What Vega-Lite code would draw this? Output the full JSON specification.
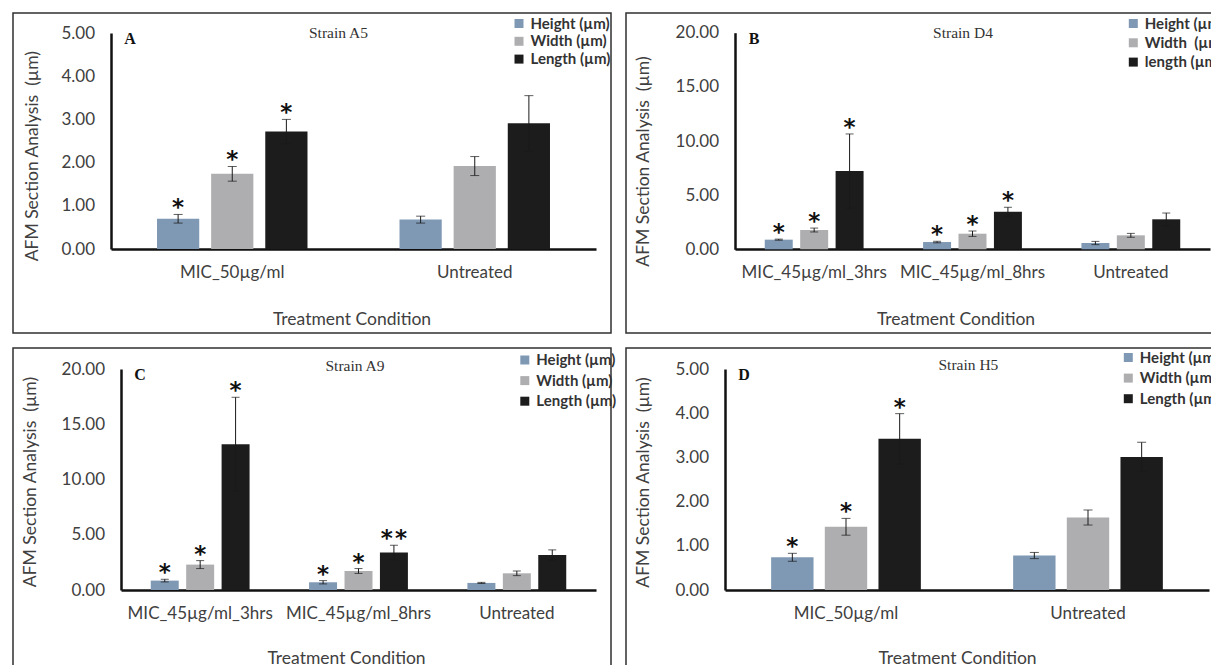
{
  "$schema": "https://vega.github.io/schema/vega-lite/v6.json",
  "padding": {"left": 12, "top": 12, "right": 0, "bottom": 0},
  "autosize": {"type": "pad"},
  "spacing": 13,
  "resolve": {"scale": {"color": "independent", "x": "independent", "y": "independent", "xOffset": "independent"}, "legend": {"color": "independent"}},
  "vconcat": [
    {
      "hconcat": [
        {
          "width": 598, "height": 320,
          "title": {"text": "Strain A5", "dx": 26.5, "dy": 32},
          "data": {"values": [
            {"condition": "MIC_50µg/ml", "measure": "Height (µm)", "value": 0.70, "lo": 0.60, "hi": 0.80, "sig": "*"},
            {"condition": "MIC_50µg/ml", "measure": "Width (µm)", "value": 1.74, "lo": 1.57, "hi": 1.91, "sig": "*"},
            {"condition": "MIC_50µg/ml", "measure": "Length (µm)", "value": 2.72, "lo": 2.44, "hi": 3.00, "sig": "*"},
            {"condition": "Untreated", "measure": "Height (µm)", "value": 0.68, "lo": 0.60, "hi": 0.76, "sig": ""},
            {"condition": "Untreated", "measure": "Width (µm)", "value": 1.92, "lo": 1.70, "hi": 2.14, "sig": ""},
            {"condition": "Untreated", "measure": "Length (µm)", "value": 2.91, "lo": 2.27, "hi": 3.55, "sig": ""}
          ]},
          "encoding": {
            "x": {"field": "condition", "type": "nominal", "sort": null,
              "scale": {"range": [98, 583], "paddingInner": 0, "paddingOuter": 0},
              "axis": {"offset": -84, "title": "Treatment Condition", "titleX": 338.5, "titleY": 70}}
          },
          "layer": [
            {"mark": {"type": "bar"},
             "encoding": {
               "xOffset": {"field": "measure", "type": "nominal", "sort": null, "scale": {"paddingInner": 0.22, "paddingOuter": 0.85}},
               "y": {"field": "value", "type": "quantitative", "scale": {"domain": [0, 5], "range": [236, 20]},
                 "axis": {"values": [0, 1, 2, 3, 4, 5], "format": ".2f", "offset": -98, "title": "AFM Section Analysis \u00a0(µm)", "titleX": -78.6, "titleY": 142.7}},
               "color": {"field": "measure", "type": "nominal", "scale": {"domain": ["Height (µm)", "Width (µm)", "Length (µm)"], "range": ["#7f98b4", "#aeaeb0", "#1c1c1c"]},
                 "legend": {"title": null, "legendX": 498.5, "legendY": 3, "rowPadding": 1.8}}
             }},
            {"mark": {"type": "rule", "color": "#1a1a1a", "strokeWidth": 1},
             "encoding": {
               "xOffset": {"field": "measure", "type": "nominal", "sort": null, "scale": {"paddingInner": 0.22, "paddingOuter": 0.85}},
               "y": {"field": "lo", "type": "quantitative"}, "y2": {"field": "hi"}}},
            {"mark": {"type": "tick", "color": "#1a1a1a", "size": 9, "thickness": 1},
             "encoding": {
               "xOffset": {"field": "measure", "type": "nominal", "sort": null, "scale": {"paddingInner": 0.22, "paddingOuter": 0.85}},
               "y": {"field": "lo", "type": "quantitative"}}},
            {"mark": {"type": "tick", "color": "#1a1a1a", "size": 9, "thickness": 1},
             "encoding": {
               "xOffset": {"field": "measure", "type": "nominal", "sort": null, "scale": {"paddingInner": 0.22, "paddingOuter": 0.85}},
               "y": {"field": "hi", "type": "quantitative"}}},
            {"mark": {"type": "text", "font": "DejaVu Sans", "fontWeight": "bold", "fontSize": 23, "baseline": "alphabetic", "dy": 1, "color": "#111"},
             "encoding": {
               "xOffset": {"field": "measure", "type": "nominal", "sort": null, "scale": {"paddingInner": 0.22, "paddingOuter": 0.85}},
               "y": {"field": "hi", "type": "quantitative"}, "text": {"field": "sig"}}},
            {"data": {"values": [{"panel": "A"}]},
             "mark": {"type": "text", "font": "Liberation Serif", "fontWeight": "bold", "fontSize": 16, "align": "center", "baseline": "middle", "dx": 19, "dy": 6, "color": "#111"},
             "encoding": {"x": {"datum": "MIC_50µg/ml", "bandPosition": 0}, "y": {"datum": 5}, "text": {"field": "panel"}}}
          ]
        },
        {
          "width": 598, "height": 320,
          "title": {"text": "Strain D4", "dx": 38, "dy": 32},
          "data": {"values": [
            {"condition": "MIC_45µg/ml_3hrs", "measure": "Height (µm)", "value": 0.89, "lo": 0.84, "hi": 0.94, "sig": "*"},
            {"condition": "MIC_45µg/ml_3hrs", "measure": "Width \u00a0(µm)", "value": 1.78, "lo": 1.60, "hi": 1.96, "sig": "*"},
            {"condition": "MIC_45µg/ml_3hrs", "measure": "length (µm)", "value": 7.23, "lo": 3.81, "hi": 10.65, "sig": "*"},
            {"condition": "MIC_45µg/ml_8hrs", "measure": "Height (µm)", "value": 0.67, "lo": 0.60, "hi": 0.74, "sig": "*"},
            {"condition": "MIC_45µg/ml_8hrs", "measure": "Width \u00a0(µm)", "value": 1.44, "lo": 1.19, "hi": 1.69, "sig": "*"},
            {"condition": "MIC_45µg/ml_8hrs", "measure": "length (µm)", "value": 3.47, "lo": 3.06, "hi": 3.88, "sig": "*"},
            {"condition": "Untreated", "measure": "Height (µm)", "value": 0.58, "lo": 0.43, "hi": 0.73, "sig": ""},
            {"condition": "Untreated", "measure": "Width \u00a0(µm)", "value": 1.29, "lo": 1.11, "hi": 1.47, "sig": ""},
            {"condition": "Untreated", "measure": "length (µm)", "value": 2.77, "lo": 2.19, "hi": 3.35, "sig": ""}
          ]},
          "encoding": {
            "x": {"field": "condition", "type": "nominal", "sort": null,
              "scale": {"range": [109, 584], "paddingInner": 0, "paddingOuter": 0},
              "axis": {"offset": -84, "title": "Treatment Condition", "titleX": 329.5, "titleY": 70}}
          },
          "layer": [
            {"mark": {"type": "bar"},
             "encoding": {
               "xOffset": {"field": "measure", "type": "nominal", "sort": null, "scale": {"paddingInner": 0.21, "paddingOuter": 0.84}},
               "y": {"field": "value", "type": "quantitative", "scale": {"domain": [0, 20], "range": [236.3, 19.7]},
                 "axis": {"values": [0, 5, 10, 15, 20], "format": ".2f", "offset": -109, "title": "AFM Section Analysis \u00a0(µm)", "titleX": -91.4, "titleY": 148}},
               "color": {"field": "measure", "type": "nominal", "scale": {"domain": ["Height (µm)", "Width \u00a0(µm)", "length (µm)"], "range": ["#7f98b4", "#aeaeb0", "#1c1c1c"]},
                 "legend": {"title": null, "legendX": 499.8, "legendY": 3, "rowPadding": 3.3}}
             }},
            {"mark": {"type": "rule", "color": "#1a1a1a", "strokeWidth": 1},
             "encoding": {
               "xOffset": {"field": "measure", "type": "nominal", "sort": null, "scale": {"paddingInner": 0.21, "paddingOuter": 0.84}},
               "y": {"field": "lo", "type": "quantitative"}, "y2": {"field": "hi"}}},
            {"mark": {"type": "tick", "color": "#1a1a1a", "size": 8, "thickness": 1},
             "encoding": {
               "xOffset": {"field": "measure", "type": "nominal", "sort": null, "scale": {"paddingInner": 0.21, "paddingOuter": 0.84}},
               "y": {"field": "lo", "type": "quantitative"}}},
            {"mark": {"type": "tick", "color": "#1a1a1a", "size": 8, "thickness": 1},
             "encoding": {
               "xOffset": {"field": "measure", "type": "nominal", "sort": null, "scale": {"paddingInner": 0.21, "paddingOuter": 0.84}},
               "y": {"field": "hi", "type": "quantitative"}}},
            {"mark": {"type": "text", "font": "DejaVu Sans", "fontWeight": "bold", "fontSize": 23, "baseline": "alphabetic", "dy": 1, "color": "#111"},
             "encoding": {
               "xOffset": {"field": "measure", "type": "nominal", "sort": null, "scale": {"paddingInner": 0.21, "paddingOuter": 0.84}},
               "y": {"field": "hi", "type": "quantitative"}, "text": {"field": "sig"}}},
            {"data": {"values": [{"panel": "B"}]},
             "mark": {"type": "text", "font": "Liberation Serif", "fontWeight": "bold", "fontSize": 16, "align": "center", "baseline": "middle", "dx": 19, "dy": 6, "color": "#111"},
             "encoding": {"x": {"datum": "MIC_45µg/ml_3hrs", "bandPosition": 0}, "y": {"datum": 20}, "text": {"field": "panel"}}}
          ]
        }
      ],
      "spacing": 15,
      "bounds": "flush",
      "resolve": {"scale": {"color": "independent", "x": "independent", "y": "independent", "xOffset": "independent"}, "legend": {"color": "independent"}}
    },
    {
      "hconcat": [
        {
          "width": 598, "height": 320,
          "title": {"text": "Strain A9", "dx": 43, "dy": 30},
          "data": {"values": [
            {"condition": "MIC_45µg/ml_3hrs", "measure": "Height (µm)", "value": 0.85, "lo": 0.73, "hi": 0.97, "sig": "*"},
            {"condition": "MIC_45µg/ml_3hrs", "measure": "Width (µm)", "value": 2.30, "lo": 1.94, "hi": 2.66, "sig": "*"},
            {"condition": "MIC_45µg/ml_3hrs", "measure": "Length (µm)", "value": 13.2, "lo": 8.96, "hi": 17.44, "sig": "*"},
            {"condition": "MIC_45µg/ml_8hrs", "measure": "Height (µm)", "value": 0.70, "lo": 0.55, "hi": 0.85, "sig": "*"},
            {"condition": "MIC_45µg/ml_8hrs", "measure": "Width (µm)", "value": 1.72, "lo": 1.50, "hi": 1.94, "sig": "*"},
            {"condition": "MIC_45µg/ml_8hrs", "measure": "Length (µm)", "value": 3.39, "lo": 2.73, "hi": 4.05, "sig": "*\u200a*"},
            {"condition": "Untreated", "measure": "Height (µm)", "value": 0.64, "lo": 0.59, "hi": 0.69, "sig": ""},
            {"condition": "Untreated", "measure": "Width (µm)", "value": 1.51, "lo": 1.30, "hi": 1.72, "sig": ""},
            {"condition": "Untreated", "measure": "Length (µm)", "value": 3.17, "lo": 2.71, "hi": 3.63, "sig": ""}
          ]},
          "encoding": {
            "x": {"field": "condition", "type": "nominal", "sort": null,
              "scale": {"range": [108, 583], "paddingInner": 0, "paddingOuter": 0},
              "axis": {"offset": -78, "title": "Treatment Condition", "titleX": 333, "titleY": 68}}
          },
          "layer": [
            {"mark": {"type": "bar"},
             "encoding": {
               "xOffset": {"field": "measure", "type": "nominal", "sort": null, "scale": {"paddingInner": 0.21, "paddingOuter": 0.84}},
               "y": {"field": "value", "type": "quantitative", "scale": {"domain": [0, 20], "range": [242, 21]},
                 "axis": {"values": [0, 5, 10, 15, 20], "format": ".2f", "offset": -108, "title": "AFM Section Analysis \u00a0(µm)", "titleX": -90.8, "titleY": 133.5}},
               "color": {"field": "measure", "type": "nominal", "scale": {"domain": ["Height (µm)", "Width (µm)", "Length (µm)"], "range": ["#7f98b4", "#aeaeb0", "#1c1c1c"]},
                 "legend": {"title": null, "legendX": 504.3, "legendY": 4.5, "rowPadding": 4.6}}
             }},
            {"mark": {"type": "rule", "color": "#1a1a1a", "strokeWidth": 1},
             "encoding": {
               "xOffset": {"field": "measure", "type": "nominal", "sort": null, "scale": {"paddingInner": 0.21, "paddingOuter": 0.84}},
               "y": {"field": "lo", "type": "quantitative"}, "y2": {"field": "hi"}}},
            {"mark": {"type": "tick", "color": "#1a1a1a", "size": 8, "thickness": 1},
             "encoding": {
               "xOffset": {"field": "measure", "type": "nominal", "sort": null, "scale": {"paddingInner": 0.21, "paddingOuter": 0.84}},
               "y": {"field": "lo", "type": "quantitative"}}},
            {"mark": {"type": "tick", "color": "#1a1a1a", "size": 8, "thickness": 1},
             "encoding": {
               "xOffset": {"field": "measure", "type": "nominal", "sort": null, "scale": {"paddingInner": 0.21, "paddingOuter": 0.84}},
               "y": {"field": "hi", "type": "quantitative"}}},
            {"mark": {"type": "text", "font": "DejaVu Sans", "fontWeight": "bold", "fontSize": 23, "baseline": "alphabetic", "dy": 1, "color": "#111"},
             "encoding": {
               "xOffset": {"field": "measure", "type": "nominal", "sort": null, "scale": {"paddingInner": 0.21, "paddingOuter": 0.84}},
               "y": {"field": "hi", "type": "quantitative"}, "text": {"field": "sig"}}},
            {"data": {"values": [{"panel": "C"}]},
             "mark": {"type": "text", "font": "Liberation Serif", "fontWeight": "bold", "fontSize": 16, "align": "center", "baseline": "middle", "dx": 19, "dy": 6, "color": "#111"},
             "encoding": {"x": {"datum": "MIC_45µg/ml_3hrs", "bandPosition": 0}, "y": {"datum": 20}, "text": {"field": "panel"}}}
          ]
        },
        {
          "width": 598, "height": 320,
          "title": {"text": "Strain H5", "dx": 43.4, "dy": 29},
          "data": {"values": [
            {"condition": "MIC_50µg/ml", "measure": "Height (µm)", "value": 0.74, "lo": 0.65, "hi": 0.83, "sig": "*"},
            {"condition": "MIC_50µg/ml", "measure": "Width (µm)", "value": 1.43, "lo": 1.24, "hi": 1.62, "sig": "*"},
            {"condition": "MIC_50µg/ml", "measure": "Length (µm)", "value": 3.42, "lo": 2.85, "hi": 3.99, "sig": "*"},
            {"condition": "Untreated", "measure": "Height (µm)", "value": 0.78, "lo": 0.71, "hi": 0.85, "sig": ""},
            {"condition": "Untreated", "measure": "Width (µm)", "value": 1.64, "lo": 1.47, "hi": 1.81, "sig": ""},
            {"condition": "Untreated", "measure": "Length (µm)", "value": 3.01, "lo": 2.68, "hi": 3.34, "sig": ""}
          ]},
          "encoding": {
            "x": {"field": "condition", "type": "nominal", "sort": null,
              "scale": {"range": [99, 583], "paddingInner": 0, "paddingOuter": 0},
              "axis": {"offset": -78, "title": "Treatment Condition", "titleX": 331, "titleY": 68}}
          },
          "layer": [
            {"mark": {"type": "bar"},
             "encoding": {
               "xOffset": {"field": "measure", "type": "nominal", "sort": null, "scale": {"paddingInner": 0.21, "paddingOuter": 0.86}},
               "y": {"field": "value", "type": "quantitative", "scale": {"domain": [0, 5], "range": [242, 21]},
                 "axis": {"values": [0, 1, 2, 3, 4, 5], "format": ".2f", "offset": -99, "title": "AFM Section Analysis \u00a0(µm)", "titleX": -81.4, "titleY": 134}},
               "color": {"field": "measure", "type": "nominal", "scale": {"domain": ["Height (µm)", "Width (µm)", "Length (µm)"], "range": ["#7f98b4", "#aeaeb0", "#1c1c1c"]},
                 "legend": {"title": null, "legendX": 494.8, "legendY": 2, "rowPadding": 4.6}}
             }},
            {"mark": {"type": "rule", "color": "#1a1a1a", "strokeWidth": 1},
             "encoding": {
               "xOffset": {"field": "measure", "type": "nominal", "sort": null, "scale": {"paddingInner": 0.21, "paddingOuter": 0.86}},
               "y": {"field": "lo", "type": "quantitative"}, "y2": {"field": "hi"}}},
            {"mark": {"type": "tick", "color": "#1a1a1a", "size": 9, "thickness": 1},
             "encoding": {
               "xOffset": {"field": "measure", "type": "nominal", "sort": null, "scale": {"paddingInner": 0.21, "paddingOuter": 0.86}},
               "y": {"field": "lo", "type": "quantitative"}}},
            {"mark": {"type": "tick", "color": "#1a1a1a", "size": 9, "thickness": 1},
             "encoding": {
               "xOffset": {"field": "measure", "type": "nominal", "sort": null, "scale": {"paddingInner": 0.21, "paddingOuter": 0.86}},
               "y": {"field": "hi", "type": "quantitative"}}},
            {"mark": {"type": "text", "font": "DejaVu Sans", "fontWeight": "bold", "fontSize": 23, "baseline": "alphabetic", "dy": 1, "color": "#111"},
             "encoding": {
               "xOffset": {"field": "measure", "type": "nominal", "sort": null, "scale": {"paddingInner": 0.21, "paddingOuter": 0.86}},
               "y": {"field": "hi", "type": "quantitative"}, "text": {"field": "sig"}}},
            {"data": {"values": [{"panel": "D"}]},
             "mark": {"type": "text", "font": "Liberation Serif", "fontWeight": "bold", "fontSize": 16, "align": "center", "baseline": "middle", "dx": 19, "dy": 6, "color": "#111"},
             "encoding": {"x": {"datum": "MIC_50µg/ml", "bandPosition": 0}, "y": {"datum": 5}, "text": {"field": "panel"}}}
          ]
        }
      ],
      "spacing": 15,
      "bounds": "flush",
      "resolve": {"scale": {"color": "independent", "x": "independent", "y": "independent", "xOffset": "independent"}, "legend": {"color": "independent"}}
    }
  ],
  "config": {
    "view": {"stroke": "#303030", "strokeWidth": 1.5},
    "font": "Lato",
    "axis": {"domainColor": "#111111", "domainWidth": 2.5, "ticks": false, "grid": false,
      "labelFont": "Lato", "labelFontSize": 17, "labelColor": "#404040",
      "titleFont": "Lato", "titleFontSize": 17.5, "titleFontWeight": "normal", "titleColor": "#404040",
      "titleBaseline": "middle", "titleAlign": "center"},
    "axisX": {"labelPadding": 15.5, "labelAngle": 0},
    "axisY": {"labelPadding": 16.5, "titleAngle": 270},
    "legend": {"orient": "none", "symbolType": "square", "symbolSize": 81, "symbolStrokeWidth": 0,
      "labelFont": "Lato", "labelFontSize": 15, "labelFontWeight": "bold", "labelColor": "#333333", "padding": 0, "labelOffset": 4},
    "title": {"font": "Liberation Serif", "fontSize": 15.5, "fontWeight": "normal", "color": "#333333", "anchor": "middle", "frame": "group", "offset": 0, "baseline": "middle"},
    "text": {"font": "Lato"}
  }
}
